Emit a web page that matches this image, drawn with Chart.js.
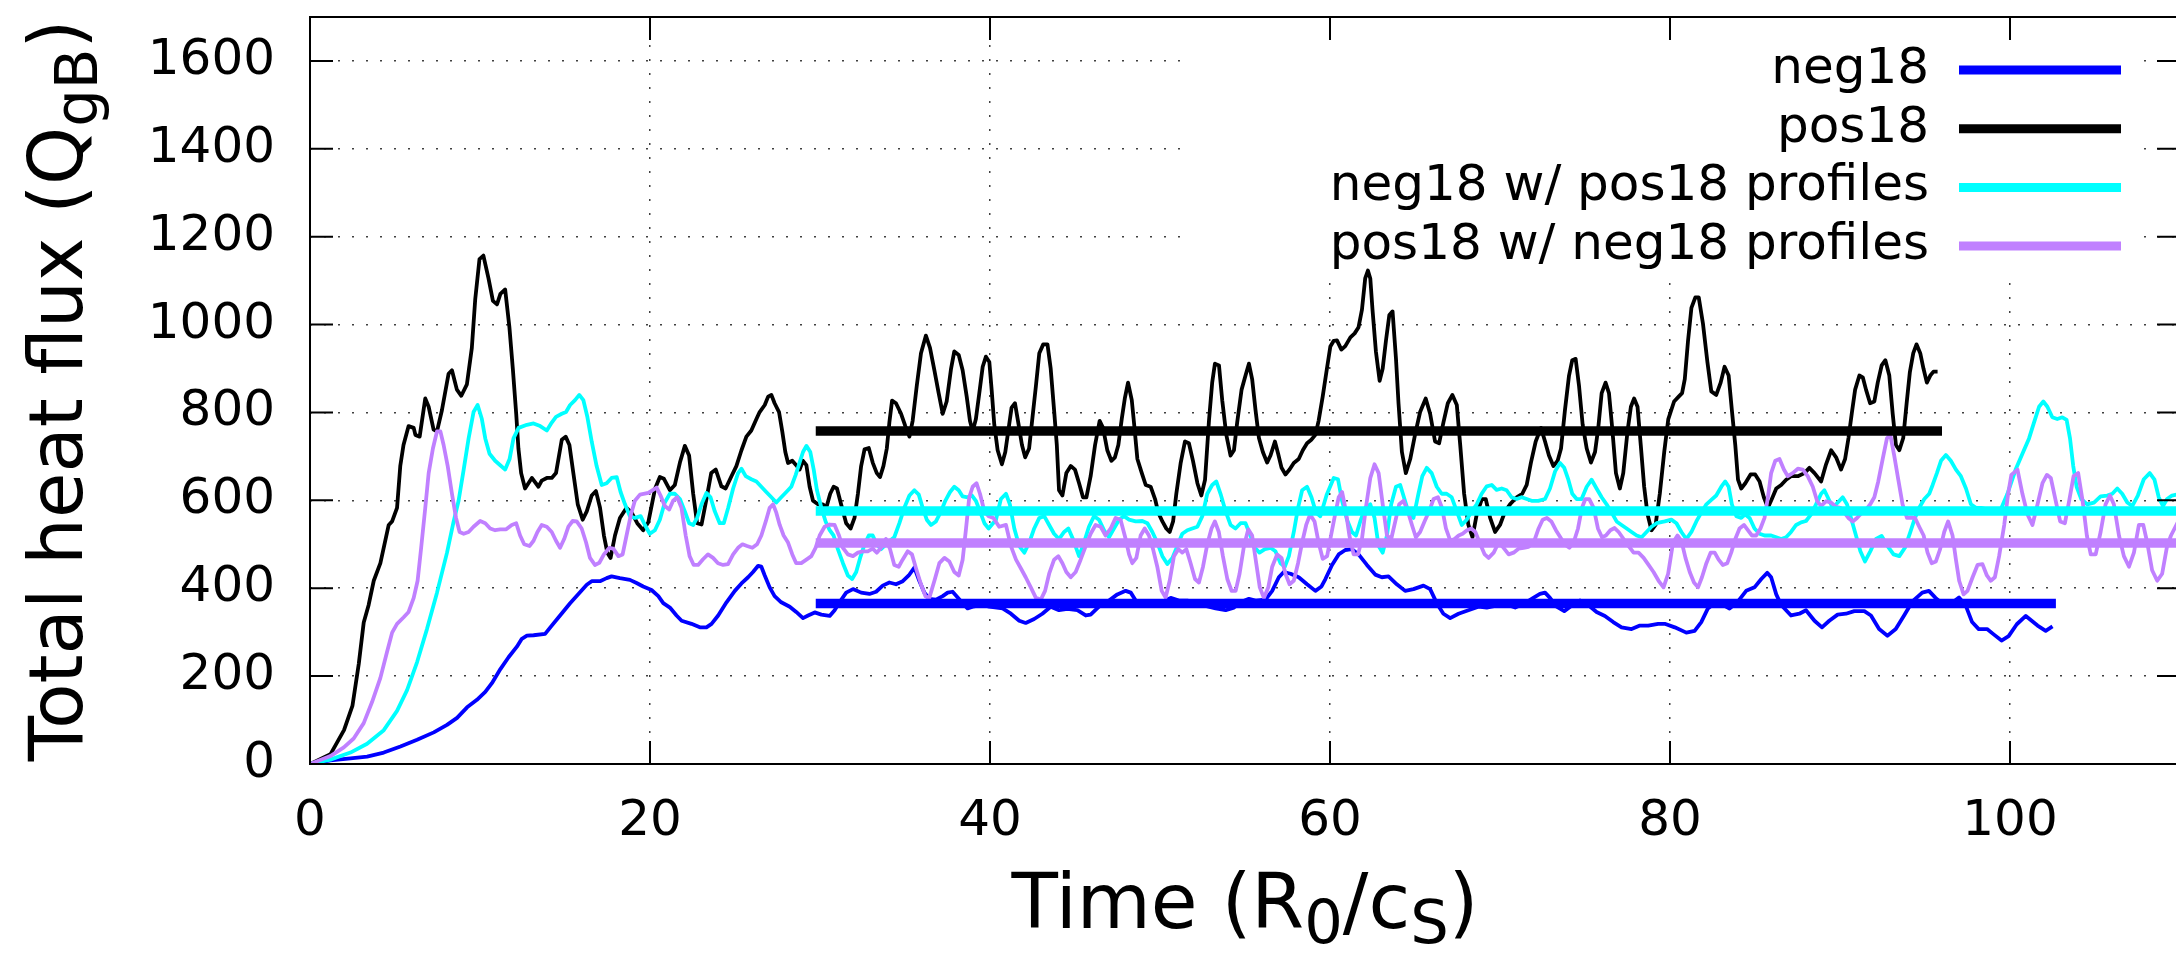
<!DOCTYPE html>
<html>
<head>
<meta charset="utf-8">
<script src="https://cdn.jsdelivr.net/npm/chart.js@4.4.0/dist/chart.umd.min.js"></script>
<style>
html,body{margin:0;padding:0;overflow:hidden;background:#fff;}
canvas{display:block;}
</style>
</head>
<body>
<canvas id="c" width="2184" height="954" style="width:2184px;height:954px"></canvas>
<script>
// ---------- data (time in R0/cs, total heat flux in QgB) ----------
const xTickValues = [0, 20, 40, 60, 80, 100];
const yTickValues = [0, 200, 400, 600, 800, 1000, 1200, 1400, 1600];
const seriesNames = ['neg18', 'pos18', 'neg18 w/ pos18 profiles', 'pos18 w/ neg18 profiles'];
const seriesColors = ['#0000ff', '#000000', '#00ffff', '#c080ff'];

const neg18 = [[0,0],[1.2,8],[2.38,13],[3.36,17],[4.34,26],[5.32,40],[6.3,55],[7.28,72],[8.06,89],[8.65,105],[9.24,129],[9.82,146],[10.31,164],[10.7,184],[11.2,216],[11.68,243],[12.17,267],[12.46,285],[12.76,292],[13.15,293],[13.83,296],[14.22,315],[14.71,338],[15.3,366],[15.79,387],[16.28,408],[16.57,416],[17.06,416],[17.45,423],[17.74,427],[18.23,423],[18.82,419],[19.21,412],[19.6,404],
[20.09,396],[20.49,382],[20.78,366],[21.17,356],[21.56,338],[21.86,326],[22.44,319],[22.93,311],[23.32,311],[23.62,319],[24.01,338],[24.5,368],[24.99,394],[25.38,411],[25.77,425],[26.06,437],[26.36,451],[26.55,449],[26.75,429],[27.04,402],[27.33,382],[27.72,368],[28.22,358],[28.6,346],[29.0,332],[29.3,338],[29.69,345],[30.08,340],[30.57,337],[30.86,350],[31.15,368],[31.54,390],[31.94,398],[32.42,390],[32.91,387],[33.3,392],[33.69,406],[34.08,413],[34.47,409],[34.87,416],[35.22,429],[35.55,447],[35.84,417],[36.14,390],[36.43,376],[36.82,374],[37.22,382],[37.51,390],[37.8,392],[38.1,379],[38.39,366],[38.68,354],[38.98,358],[39.57,362],[39.96,358],
[40.74,354],[41.23,342],[41.72,326],[42.1,321],[42.6,330],[43.08,342],[43.57,358],[44.06,350],[44.55,353],[45.14,350],[45.63,338],[45.92,340],[46.41,358],[47.0,372],[47.49,386],[47.98,394],[48.28,390],[48.57,372],[48.96,362],[49.45,364],[49.94,368],[50.33,372],[50.63,378],[51.12,372],[51.61,372],[52.1,366],[52.68,360],[53.27,354],[53.86,350],[54.35,356],[54.84,370],[55.23,376],[55.62,372],[56.21,374],[56.6,394],[56.99,425],[57.28,437],[57.68,433],[58.16,425],[58.65,409],[59.14,394],
[59.5,404],[59.73,421],[60.12,453],[60.51,477],[60.9,487],[61.29,489],[61.68,477],[62.17,453],[62.66,431],[63.05,425],[63.44,427],[63.93,409],[64.42,394],[64.91,398],[65.5,406],[65.89,398],[66.28,366],[66.67,342],[67.07,332],[67.56,342],[68.14,350],[68.73,358],[69.22,356],[69.71,360],[70.3,364],[70.89,356],[71.47,366],[71.96,378],[72.35,387],[72.65,390],[72.94,378],[73.33,358],[73.78,348],[74.21,360],[74.7,372],[75.19,362],[75.68,346],[76.17,337],[76.66,323],[77.15,311],[77.74,307],[78.23,315],[78.72,315],[79.3,319],
[79.69,319],[80.28,311],[80.96,299],[81.45,303],[81.84,323],[82.23,354],[82.62,366],[83.11,362],[83.5,354],[84.0,370],[84.48,394],[84.97,402],[85.37,421],[85.72,435],[85.95,425],[86.25,386],[86.54,362],[87.12,338],[87.61,342],[88.0,350],[88.5,326],[88.94,311],[89.37,326],[89.86,340],[90.35,342],[90.84,348],[91.43,348],[91.82,338],[92.3,307],[92.79,292],[93.28,307],[93.77,338],[94.26,370],[94.84,390],[95.23,394],[95.62,378],[96.11,362],[96.5,364],[97.0,379],[97.38,362],[97.77,323],[98.16,307],[98.65,307],[99.04,295],[99.5,281],[99.92,291],
[100.4,318],[100.93,337],[101.62,315],[102.1,303],[102.5,313]];

const pos18 = [[0,0],[1.2,22],[2.0,77],[2.5,133],[2.87,228],[3.16,322],[3.45,362],[3.75,417],[4.14,457],[4.63,544],[4.83,552],[5.12,583],[5.31,678],[5.5,726],[5.8,769],[6.1,765],[6.2,749],[6.45,745],[6.78,832],[6.98,813],[7.27,761],[7.47,757],[7.76,805],[8.15,888],[8.35,896],[8.64,852],[8.9,838],[9.23,864],[9.52,947],[9.72,1058],[9.97,1149],[10.2,1157],[10.5,1105],[10.76,1054],[11.0,1046],[11.2,1070],[11.48,1080],[11.73,994],[11.93,900],[12.13,797],[12.26,718],[12.42,662],[12.65,627],[13.05,651],[13.44,631],[13.63,645],[13.93,651],[14.22,651],[14.47,662],[14.81,738],[15.04,745],[15.26,726],[15.49,662],[15.75,591],[16.04,556],[16.28,575],[16.57,611],[16.82,621],[17.06,583],[17.29,520],[17.49,481],[17.68,469],[17.94,520],[18.23,560],[18.62,583],[18.92,572],[19.25,548],
[19.6,532],[19.9,550],[20.3,627],[20.58,653],[20.82,649],[21.17,623],[21.46,635],[21.76,686],[22.05,724],[22.3,702],[22.54,615],[22.77,548],[23.03,545],[23.32,603],[23.6,662],[23.87,670],[24.2,632],[24.45,627],[24.79,655],[25.08,678],[25.38,714],[25.67,745],[25.96,759],[26.26,785],[26.45,801],[26.75,817],[26.95,836],[27.14,840],[27.33,821],[27.59,801],[27.78,757],[27.96,710],[28.12,685],[28.37,690],[28.6,680],[28.8,670],[29.0,690],[29.2,680],[29.39,631],[29.59,599],[29.88,591],[30.17,591],[30.37,583],[30.6,615],[30.8,631],[31.0,627],[31.24,591],[31.54,548],[31.8,536],[32.03,560],[32.23,615],[32.42,678],[32.62,716],[32.87,719],[33.1,686],[33.34,662],[33.53,653],[33.73,678],[33.93,718],[34.08,777],[34.24,827],[34.47,821],[34.77,797],[35.02,769],[35.26,745],[35.45,781],[35.69,860],[35.94,935],[36.23,975],[36.47,947],[36.73,896],[36.98,844],[37.22,797],[37.45,825],[37.71,900],[37.9,939],[38.16,931],[38.39,896],[38.63,836],[38.82,781],[38.98,757],[39.17,785],[39.37,844],[39.57,904],[39.76,927],[39.96,915],
[40.1,850],[40.25,773],[40.45,714],[40.7,682],[40.9,710],[41.13,773],[41.27,811],[41.47,821],[41.68,773],[41.88,726],[42.07,698],[42.3,718],[42.5,789],[42.7,860],[42.9,935],[43.13,955],[43.38,955],[43.57,900],[43.77,805],[43.93,726],[44.06,623],[44.26,611],[44.49,662],[44.75,678],[45.0,670],[45.24,639],[45.47,607],[45.67,607],[45.92,655],[46.18,726],[46.45,781],[46.65,765],[46.9,714],[47.14,690],[47.35,698],[47.55,726],[47.75,785],[47.93,832],[48.12,868],[48.34,828],[48.48,773],[48.67,694],[48.93,662],[49.16,635],[49.45,631],[49.71,603],[49.9,572],[50.14,552],[50.37,536],[50.57,528],[50.77,552],[50.96,615],[51.22,686],[51.47,734],[51.7,730],[51.94,690],[52.2,639],[52.43,611],[52.65,647],[52.88,781],[53.07,868],[53.23,911],[53.47,907],[53.66,828],[53.9,749],[54.15,702],[54.35,714],[54.54,777],[54.8,852],[55.03,884],[55.23,911],[55.42,876],[55.62,805],[55.82,742],[56.05,710],[56.3,686],[56.5,702],[56.76,734],[56.95,706],[57.15,674],[57.38,659],[57.62,670],[57.87,685],[58.16,694],[58.4,714],[58.65,730],[58.9,738],[59.14,749],[59.33,781],[59.57,836],[59.82,900],[60.02,950],
[60.22,963],[60.41,964],[60.67,943],[60.9,951],[61.2,971],[61.45,980],[61.68,994],[61.88,1034],[62.07,1105],[62.23,1123],[62.37,1105],[62.5,1034],[62.7,939],[62.92,872],[63.1,900],[63.29,963],[63.49,1022],[63.68,1030],[63.88,923],[64.03,821],[64.23,710],[64.46,662],[64.72,694],[65.0,749],[65.3,801],[65.63,832],[65.89,797],[66.18,734],[66.42,730],[66.67,777],[66.93,821],[67.2,840],[67.46,817],[67.66,726],[67.89,615],[68.14,544],[68.38,516],[68.63,568],[68.93,603],[69.16,603],[69.42,560],[69.71,528],[70.0,544],[70.3,575],[70.59,591],[70.98,607],[71.31,615],[71.57,635],[71.82,686],[72.1,734],[72.41,765],[72.65,734],[72.88,702],[73.14,678],[73.39,690],[73.59,718],[73.82,805],[74.06,884],[74.25,919],[74.45,922],[74.65,860],[74.86,773],[75.1,718],[75.35,686],[75.59,710],[75.78,765],[75.98,844],[76.21,868],[76.41,844],[76.6,765],[76.82,662],[77.05,627],[77.25,662],[77.5,757],[77.7,813],[77.89,832],[78.09,813],[78.28,726],[78.48,631],[78.68,568],[78.91,532],[79.15,544],[79.4,615],
[79.66,710],[79.9,785],[80.24,825],[80.51,836],[80.71,844],[80.87,876],[81.06,963],[81.26,1038],[81.49,1062],[81.69,1062],[81.94,1002],[82.2,915],[82.43,848],[82.72,840],[82.98,868],[83.21,904],[83.45,884],[83.64,805],[83.84,726],[84.0,647],[84.19,627],[84.43,639],[84.74,659],[85.01,659],[85.27,643],[85.52,607],[85.76,583],[85.99,603],[86.25,627],[86.54,635],[86.83,647],[87.12,655],[87.52,655],[87.91,662],[88.2,674],[88.5,662],[88.89,643],[89.18,682],[89.48,714],[89.77,698],[90.06,670],[90.3,694],[90.5,742],[90.69,797],[90.89,852],[91.14,884],[91.34,880],[91.53,852],[91.77,821],[92.02,825],[92.22,868],[92.45,907],[92.67,919],[92.9,884],[93.1,797],[93.29,726],[93.49,714],[93.72,742],[93.92,821],[94.11,892],[94.31,935],[94.5,955],[94.72,935],[94.91,900],[95.11,868],[95.31,884],[95.5,893],[95.74,893]];

const neg18PosProfiles = [[0,0],[1.2,10],[2.38,26],[3.36,46],[4.34,77],[5.12,121],[5.71,168],[6.3,232],[6.88,307],[7.47,390],[8.06,481],[8.45,552],[8.74,599],[9.04,670],[9.33,741],[9.62,801],[9.86,817],[10.11,785],[10.31,741],[10.56,706],[10.89,690],[11.19,680],[11.48,670],[11.74,694],[11.97,741],[12.27,765],[12.76,772],[13.15,775],[13.54,769],[13.93,759],[14.22,777],[14.47,790],[14.81,797],[15.06,801],[15.3,817],[15.59,828],[15.84,840],[16.08,828],[16.32,789],[16.57,734],[16.86,678],[17.16,635],[17.45,639],[17.74,651],[18.04,653],[18.27,619],[18.53,591],[18.82,564],[19.12,560],[19.45,564],
[19.7,544],[19.99,524],[20.29,532],[20.58,556],[20.87,595],[21.17,615],[21.46,615],[21.76,603],[22.05,575],[22.3,548],[22.54,544],[22.77,560],[23.03,591],[23.32,617],[23.56,607],[23.81,575],[24.1,548],[24.34,548],[24.6,583],[24.89,627],[25.18,662],[25.38,672],[25.63,655],[25.96,648],[26.26,643],[26.55,631],[26.84,619],[27.14,607],[27.43,595],[27.72,607],[28.02,619],[28.31,631],[28.57,658],[28.8,686],[29.0,710],[29.2,724],[29.43,710],[29.63,670],[29.82,623],[30.08,583],[30.33,552],[30.57,532],[30.8,520],[31.05,489],[31.35,457],[31.64,429],[31.89,421],[32.13,437],[32.36,469],[32.62,500],[32.87,520],[33.1,520],[33.34,500],[33.59,489],[33.88,500],[34.12,508],[34.37,516],[34.67,548],[34.96,583],[35.26,611],[35.55,623],[35.81,613],[36.04,583],[36.28,556],[36.53,544],[36.82,552],[37.12,575],[37.37,599],[37.65,619],[37.9,631],[38.16,623],[38.39,609],[38.69,607],[38.94,611],[39.17,599],[39.41,575],[39.67,548],[39.92,536],
[40.35,556],[40.64,603],[40.94,615],[41.17,591],[41.43,536],[41.72,496],[42.02,481],[42.31,504],[42.6,536],[42.9,560],[43.19,564],[43.48,544],[43.77,524],[44.06,512],[44.36,528],[44.61,536],[44.88,512],[45.24,473],[45.53,504],[45.82,540],[46.12,564],[46.41,556],[46.71,532],[47.0,516],[47.29,536],[47.59,556],[47.88,564],[48.18,556],[48.57,552],[48.96,553],[49.26,548],[49.55,528],[49.84,504],[50.14,473],[50.43,455],[50.73,469],[51.02,496],[51.31,524],[51.61,532],[51.9,536],[52.2,540],[52.49,564],[52.78,615],[53.07,635],[53.31,643],[53.56,615],[53.86,575],[54.15,544],[54.44,536],[54.74,548],[55.03,548],[55.32,520],[55.58,492],[55.85,481],[56.17,489],[56.5,492],[56.79,484],[57.09,457],[57.34,449],[57.58,473],[57.87,528],[58.12,583],[58.36,623],[58.65,631],[58.91,607],[59.18,572],[59.43,564],
[59.8,612],[60.22,651],[60.47,648],[60.71,599],[61.0,556],[61.29,528],[61.53,520],[61.78,552],[62.07,583],[62.37,591],[62.62,560],[62.86,496],[63.1,481],[63.35,520],[63.6,591],[63.88,631],[64.13,635],[64.38,603],[64.62,572],[64.91,560],[65.2,615],[65.43,655],[65.69,674],[65.98,662],[66.28,631],[66.57,615],[66.86,615],[67.16,607],[67.46,575],[67.75,544],[68.04,556],[68.33,575],[68.63,591],[68.92,615],[69.22,632],[69.51,635],[69.8,624],[70.1,627],[70.39,623],[70.68,607],[70.98,603],[71.27,607],[71.57,603],[71.86,599],[72.25,599],[72.65,603],[72.94,627],[73.24,666],[73.53,685],[73.78,674],[74.02,647],[74.25,615],[74.51,603],[74.8,603],[75.1,631],[75.39,647],[75.68,627],[75.98,607],[76.27,591],[76.57,572],[76.86,552],[77.15,544],[77.45,536],[77.74,528],[78.04,520],[78.33,516],[78.62,528],[78.91,540],[79.21,548],
[79.69,552],[80.08,556],[80.38,548],[80.67,528],[80.96,512],[81.26,528],[81.55,552],[81.84,572],[82.14,591],[82.43,601],[82.72,611],[83.02,631],[83.25,643],[83.45,631],[83.64,591],[83.9,564],[84.19,560],[84.43,568],[84.68,560],[84.97,536],[85.27,524],[85.56,520],[85.95,520],[86.25,516],[86.54,512],[86.83,516],[87.12,528],[87.42,544],[87.71,550],[88.0,553],[88.3,568],[88.59,591],[88.89,615],[89.08,623],[89.28,607],[89.57,583],[89.87,595],[90.16,607],[90.41,591],[90.65,560],[90.94,520],[91.2,484],[91.47,461],[91.78,484],[92.12,512],[92.45,519],[92.8,496],[93.15,477],[93.49,473],[93.82,492],[94.14,528],[94.41,560],[94.66,583],[94.96,603],[95.25,615],[95.45,635],[95.7,662],[95.94,690],[96.23,703],[96.52,690],[96.82,670],[97.11,655],[97.41,627],[97.7,591],[98.0,583],[98.29,583],[98.58,580],[98.87,577],[99.17,575],[99.46,580],
[99.85,615],[100.33,670],[100.73,706],[101.12,741],[101.41,777],[101.71,813],[101.96,825],[102.2,813],[102.49,789],[102.78,785],[103.08,789],[103.33,783],[103.53,741],[103.72,678],[103.92,631],[104.19,603],[104.54,591],[104.94,595],[105.33,609],[105.72,611],[106.02,615],[106.31,627],[106.6,615],[106.9,595],[107.19,587],[107.52,611],[107.87,648],[108.22,662],[108.5,647],[108.75,607],[109.0,587],[109.24,603],[109.53,611],[110,615]];

const pos18NegProfiles = [[0,0],[1.2,18],[1.99,38],[2.57,58],[3.16,93],[3.65,141],[4.14,196],[4.53,255],[4.83,299],[5.12,319],[5.51,334],[5.8,346],[6.1,378],[6.33,417],[6.53,489],[6.78,583],[6.98,662],[7.23,718],[7.47,757],[7.67,757],[7.86,726],[8.1,678],[8.35,615],[8.59,560],[8.8,528],[9.04,524],[9.33,528],[9.62,540],[10.01,553],[10.31,548],[10.6,536],[10.89,532],[11.19,534],[11.54,534],[11.87,544],[12.13,548],[12.36,520],[12.6,500],[12.91,496],[13.15,508],[13.38,528],[13.63,544],[13.93,540],[14.22,528],[14.47,508],[14.71,492],[14.95,512],[15.2,540],[15.45,553],[15.69,552],[15.98,536],[16.24,504],[16.47,469],[16.76,453],[17.02,458],[17.29,477],[17.61,492],[17.84,490],[18.14,473],[18.39,477],[18.62,520],[18.88,568],[19.11,599],[19.41,613],
[19.9,617],[20.39,629],[20.62,611],[20.87,587],[21.13,579],[21.36,599],[21.6,607],[21.85,583],[22.1,520],[22.33,473],[22.57,453],[22.83,453],[23.12,466],[23.41,477],[23.71,469],[24.0,457],[24.3,453],[24.59,455],[24.89,477],[25.18,492],[25.44,500],[25.71,496],[26.02,492],[26.3,500],[26.55,520],[26.81,552],[27.04,583],[27.24,591],[27.43,572],[27.63,544],[27.86,520],[28.12,504],[28.37,477],[28.6,457],[28.9,457],[29.2,465],[29.49,473],[29.74,492],[29.98,520],[30.27,540],[30.57,545],[30.86,544],[31.12,520],[31.35,492],[31.64,477],[31.94,473],[32.23,481],[32.52,484],[32.81,484],[33.1,490],[33.34,481],[33.59,492],[33.88,512],[34.12,489],[34.37,453],[34.63,449],[34.86,465],[35.16,484],[35.41,477],[35.65,445],[35.94,409],[36.2,382],[36.43,378],[36.73,417],[37.02,457],[37.32,469],[37.61,461],[37.9,437],[38.16,429],[38.39,465],[38.59,536],[38.78,607],[38.98,631],[39.21,639],[39.41,615],[39.67,575],[39.92,564],
[40.2,560],[40.54,540],[40.94,544],[41.23,496],[41.53,465],[41.82,445],[42.1,425],[42.4,402],[42.7,378],[42.99,374],[43.24,394],[43.48,433],[43.77,465],[44.02,473],[44.26,457],[44.49,437],[44.75,425],[45.04,437],[45.33,465],[45.63,496],[45.92,524],[46.21,544],[46.51,540],[46.8,520],[47.1,536],[47.39,560],[47.68,556],[47.98,512],[48.18,477],[48.37,457],[48.61,469],[48.86,520],[49.1,536],[49.35,520],[49.59,489],[49.84,449],[50.1,394],[50.33,379],[50.57,417],[50.82,473],[51.08,489],[51.31,481],[51.55,489],[51.8,457],[52.06,421],[52.29,413],[52.53,449],[52.78,500],[53.03,536],[53.23,552],[53.46,528],[53.7,473],[53.96,421],[54.21,394],[54.45,394],[54.68,433],[54.94,496],[55.19,534],[55.42,520],[55.66,457],[55.87,402],[56.11,378],[56.37,402],[56.6,449],[56.89,477],[57.15,469],[57.38,433],[57.62,409],[57.87,417],[58.12,457],[58.36,504],[58.6,544],[58.83,568],[59.09,552],[59.33,504],[59.57,467],[59.83,473],
[60.08,524],[60.31,570],[60.51,607],[60.71,619],[60.9,583],[61.14,520],[61.39,477],[61.65,477],[61.88,512],[62.11,583],[62.37,651],[62.62,682],[62.86,662],[63.1,591],[63.35,520],[63.6,512],[63.84,552],[64.07,591],[64.33,599],[64.58,575],[64.82,544],[65.05,516],[65.3,528],[65.56,552],[65.83,575],[66.09,603],[66.35,607],[66.59,583],[66.82,536],[67.08,508],[67.33,512],[67.57,520],[67.8,524],[68.06,532],[68.31,536],[68.55,528],[68.84,500],[69.1,477],[69.33,469],[69.63,481],[69.92,504],[70.21,492],[70.51,477],[70.8,481],[71.09,490],[71.39,492],[71.68,494],[71.98,504],[72.27,536],[72.51,556],[72.76,560],[73.02,552],[73.29,532],[73.55,516],[73.8,500],[74.08,492],[74.33,504],[74.59,536],[74.82,583],[75.02,603],[75.25,603],[75.51,583],[75.76,536],[76.0,516],[76.23,520],[76.49,532],[76.74,537],[76.98,528],[77.27,512],[77.57,496],[77.86,481],[78.15,481],[78.45,469],[78.74,453],[79.03,437],[79.33,417],[79.62,402],
[79.89,433],[80.18,504],[80.44,520],[80.67,508],[80.91,469],[81.16,437],[81.41,413],[81.65,402],[81.88,425],[82.14,457],[82.39,481],[82.63,481],[82.86,465],[83.11,453],[83.37,457],[83.6,481],[83.84,512],[84.09,536],[84.35,544],[84.58,532],[84.82,520],[85.07,520],[85.32,536],[85.56,560],[85.76,607],[85.95,662],[86.19,690],[86.44,694],[86.7,670],[86.93,655],[87.22,662],[87.52,672],[87.81,670],[88.1,655],[88.4,631],[88.65,599],[88.89,587],[89.18,598],[89.48,595],[89.77,585],[90.02,583],[90.26,572],[90.49,560],[90.75,552],[91.0,560],[91.28,572],[91.53,579],[91.78,591],[92.02,607],[92.25,643],[92.51,694],[92.76,741],[92.96,749],[93.19,702],[93.43,647],[93.68,591],[93.94,560],[94.17,561],[94.41,560],[94.66,540],[94.92,520],[95.15,481],[95.39,457],[95.64,461],[95.89,489],[96.13,528],[96.36,552],[96.62,520],[96.82,465],[97.01,417],[97.27,386],[97.5,394],[97.8,425],[98.09,453],[98.38,455],[98.64,429],[98.87,417],[99.11,425],[99.36,473],[99.66,544],[99.89,615],[100.08,658],
[100.44,670],[100.73,615],[101.03,568],[101.32,544],[101.62,591],[101.91,639],[102.17,658],[102.4,651],[102.69,599],[102.95,552],[103.23,548],[103.48,599],[103.74,655],[104.01,662],[104.27,599],[104.52,520],[104.75,477],[105.04,477],[105.33,528],[105.62,591],[105.88,611],[106.11,591],[106.41,520],[106.7,473],[107.0,449],[107.29,481],[107.58,544],[107.84,544],[108.07,504],[108.36,441],[108.66,417],[108.95,433],[109.24,496],[109.47,520],[110,560]];

// time-averaged fluxes (thick horizontal segments)
const neg18Mean = [[29.75,365],[102.7,365]];
const pos18Mean = [[29.75,758],[96.0,758]];
const neg18PosProfilesMean = [[29.75,576],[110,576]];
const pos18NegProfilesMean = [[29.75,503],[110,503]];

// ---------- rendering ----------
const FONT = "'DejaVu Sans', sans-serif";
Chart.defaults.font.family = FONT;
Chart.defaults.color = '#000';

const toXY = arr => arr.map(p => ({x: p[0], y: p[1]}));
const dataLine = (arr, color, order) => ({
  data: toXY(arr), borderColor: color, backgroundColor: color, borderWidth: 3.8,
  pointRadius: 0, tension: 0, fill: false, order: order, borderJoinStyle: 'round'
});
const meanLine = (arr, color) => ({
  data: toXY(arr), borderColor: color, backgroundColor: color, borderWidth: 9.5,
  pointRadius: 0, tension: 0, fill: false, order: 0, borderCapStyle: 'butt'
});

function drawRich(ctx, parts, cx, baseY, size) {
  const subSize = size * 0.8, shift = size * 0.2;
  let total = 0;
  parts.forEach(p => {
    ctx.font = (p.sub ? subSize : size) + 'px ' + FONT;
    p.w = ctx.measureText(p.t).width;
    total += p.w;
  });
  let x = cx - total / 2;
  ctx.textAlign = 'left';
  ctx.textBaseline = 'alphabetic';
  parts.forEach(p => {
    ctx.font = (p.sub ? subSize : size) + 'px ' + FONT;
    ctx.fillText(p.t, x, baseY + (p.sub ? shift : 0));
    x += p.w;
  });
}

const framePlugin = {
  id: 'gnuplotFrame',
  beforeDatasetsDraw(chart) {
    const {ctx, chartArea: a} = chart;
    ctx.save();
    ctx.fillStyle = '#ffffff';
    ctx.fillRect(1186, a.top, 2140 - 1186, 272 - a.top);
    ctx.restore();
  },
  afterDatasetsDraw(chart) {
    const {ctx, chartArea: a, scales} = chart;
    const xs = scales.x, ys = scales.y;
    ctx.save();
    ctx.strokeStyle = '#000';
    ctx.lineWidth = 2;
    ctx.strokeRect(a.left, a.top, a.right - a.left, a.bottom - a.top);
    const TL = 23;
    ctx.beginPath();
    xTickValues.forEach(v => {
      const px = xs.getPixelForValue(v);
      ctx.moveTo(px, a.bottom); ctx.lineTo(px, a.bottom - TL);
      ctx.moveTo(px, a.top); ctx.lineTo(px, a.top + TL);
    });
    yTickValues.forEach(v => {
      const py = ys.getPixelForValue(v);
      ctx.moveTo(a.left, py); ctx.lineTo(a.left + TL, py);
      ctx.moveTo(a.right, py); ctx.lineTo(a.right - TL, py);
    });
    ctx.stroke();
    // key
    ctx.font = '50px ' + FONT;
    ctx.textAlign = 'right';
    ctx.textBaseline = 'middle';
    seriesNames.forEach((name, i) => {
      const ry = a.top + 53 + i * 58.7;
      ctx.fillStyle = '#000';
      ctx.fillText(name, 1929, ry);
      ctx.strokeStyle = seriesColors[i];
      ctx.lineWidth = 9;
      ctx.lineCap = 'butt';
      ctx.beginPath();
      ctx.moveTo(1959, ry); ctx.lineTo(2121, ry);
      ctx.stroke();
    });
    // axis titles
    ctx.fillStyle = '#000';
    drawRich(ctx, [{t: 'Time (R'}, {t: '0', sub: true}, {t: '/c'}, {t: 'S', sub: true}, {t: ')'}],
      (a.left + a.right) / 2, 928, 76);
    ctx.save();
    ctx.translate(82, (a.top + a.bottom) / 2);
    ctx.rotate(-Math.PI / 2);
    drawRich(ctx, [{t: 'Total heat flux (Q'}, {t: 'gB', sub: true}, {t: ')'}], 0, 0, 74);
    ctx.restore();
    ctx.restore();
  }
};

new Chart(document.getElementById('c'), {
  type: 'line',
  data: {
    datasets: [
      dataLine(neg18, seriesColors[0], 4),
      dataLine(pos18, seriesColors[1], 3),
      dataLine(neg18PosProfiles, seriesColors[2], 2),
      dataLine(pos18NegProfiles, seriesColors[3], 1),
      meanLine(neg18Mean, seriesColors[0]),
      meanLine(pos18Mean, seriesColors[1]),
      meanLine(neg18PosProfilesMean, seriesColors[2]),
      meanLine(pos18NegProfilesMean, seriesColors[3])
    ]
  },
  options: {
    responsive: false,
    devicePixelRatio: 1,
    animation: false,
    layout: {padding: {top: 17, right: 4, bottom: 0, left: 0}},
    plugins: {legend: {display: false}, tooltip: {enabled: false}},
    scales: {
      x: {
        type: 'linear', min: 0, max: 110,
        afterBuildTicks: s => { s.ticks = xTickValues.map(v => ({value: v})); },
        afterFit: s => { s.height = 190; s.paddingLeft = 0; s.paddingRight = 0; },
        ticks: {font: {size: 50}, color: '#000', padding: 28, maxRotation: 0, autoSkip: false,
                callback: v => String(v)},
        grid: {color: 'rgba(0,0,0,0.75)', lineWidth: 1.5, drawTicks: false},
        border: {display: false, dash: [2, 12]}
      },
      y: {
        type: 'linear', min: 0, max: 1700,
        afterBuildTicks: s => { s.ticks = yTickValues.map(v => ({value: v})); },
        afterFit: s => { s.width = 310; s.paddingTop = 0; s.paddingBottom = 0; },
        ticks: {font: {size: 50}, color: '#000', padding: 35, autoSkip: false,
                callback: v => String(v)},
        grid: {color: 'rgba(0,0,0,0.75)', lineWidth: 1.5, drawTicks: false},
        border: {display: false, dash: [2, 12]}
      }
    }
  },
  plugins: [framePlugin]
});
</script>
</body>
</html>
